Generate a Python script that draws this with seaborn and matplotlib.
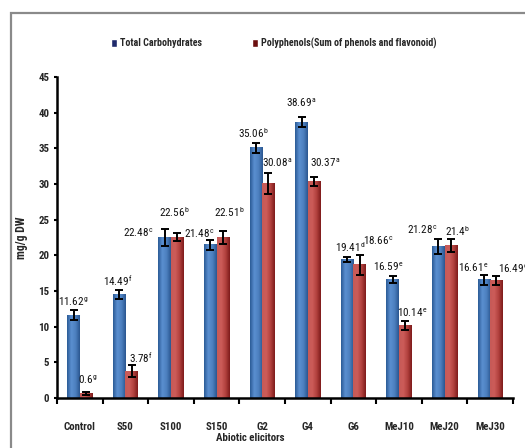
import numpy as np
import pandas as pd
import matplotlib
matplotlib.use("Agg")
import matplotlib.pyplot as plt
import seaborn as sns
from matplotlib.colors import LinearSegmentedColormap
from matplotlib.patches import Rectangle, Patch
from matplotlib import font_manager

# ---- data -------------------------------------------------------------
elicitors = ["Control", "S50", "S100", "S150", "G2", "G4", "G6", "MeJ10", "MeJ20", "MeJ30"]
carbohydrates = [11.62, 14.49, 22.48, 21.48, 35.06, 38.69, 19.41, 16.59, 21.28, 16.61]
polyphenols = [0.6, 3.78, 22.56, 22.51, 30.08, 30.37, 18.66, 10.14, 21.4, 16.49]
carb_err = [0.65, 0.6, 1.2, 0.7, 0.65, 0.7, 0.4, 0.47, 1.05, 0.7]
poly_err = [0.2, 0.8, 0.55, 0.9, 1.5, 0.65, 1.35, 0.6, 0.95, 0.65]
carb_letters = ["g", "f", "c", "c", "b", "a", "d", "e", "c", "e"]
poly_letters = ["g", "f", "b", "b", "a", "a", "c", "e", "b", "d"]
series_names = ["Total Carbohydrates", "Polyphenols(Sum of phenols and flavonoid)"]
yticks = list(range(0, 50, 5))

# placement of the value annotations (offset from category centre, height)
carb_label_dx = [-0.15, -0.18, -0.72, -0.39, -0.2, -0.15, -0.07, -0.24, -0.5, -0.37]
carb_label_y = [13.5, 16.4, 23.1, 23.0, 37.2, 41.4, 21.2, 18.4, 23.6, 18.2]
poly_label_dx = [0.18, 0.34, 0.07, 0.27, 0.33, 0.38, 0.54, 0.29, 0.29, 0.5]
poly_label_y = [2.5, 5.6, 26.1, 26.1, 33.0, 33.0, 22.0, 11.9, 23.4, 18.2]

blue, red = "#4F81BD", "#C0504D"
blue_shades = ["#2B5B96", "#5A8FD0", "#4D80BF", "#2A5690"]
red_shades = ["#C65A57", "#CC5C59", "#B2413E", "#7E1B1B"]

# ---- style ------------------------------------------------------------
sns.set_theme(style="white")
installed = {f.name for f in font_manager.fontManager.ttflist}
narrow = [f for f in ("Liberation Sans Narrow", "Roboto Condensed",
                      "DejaVu Sans Condensed") if f in installed]
family = narrow + ["Roboto", "DejaVu Sans"]
plt.rcParams["font.family"] = family
plt.rcParams["font.stretch"] = "condensed"
plt.rcParams["mathtext.fontset"] = "custom"
plt.rcParams["mathtext.rm"] = family[0]
plt.rcParams["mathtext.default"] = "regular"
# narrower fonts can take the full size, otherwise shrink a little
small = 7.8 if narrow else 6.8

fig = plt.figure(figsize=(5.25, 4.48), dpi=100)
ax = fig.add_axes([57 / 525, 1 - 398 / 448, 456 / 525, 321 / 448])

df = pd.DataFrame({
    "elicitor": elicitors * 2,
    "value": carbohydrates + polyphenols,
    "series": [series_names[0]] * len(elicitors) + [series_names[1]] * len(elicitors),
})
sns.barplot(data=df, x="elicitor", y="value", hue="series",
            palette=[blue, red], width=0.55, errorbar=None,
            saturation=1, legend=False, ax=ax)

# shaded (cylinder-like) fill for each bar
bars = list(ax.patches)
n = len(elicitors)
grad = np.linspace(0, 1, 64).reshape(1, -1)
for k, p in enumerate(bars):
    shades = blue_shades if k < n else red_shades
    cmap = LinearSegmentedColormap.from_list("shade", shades)
    x0, w, h = p.get_x(), p.get_width(), p.get_height()
    ax.imshow(grad, cmap=cmap, extent=(x0, x0 + w, 0, h), aspect="auto",
              interpolation="bilinear", zorder=p.get_zorder() + 0.1)

# error bars at the bar centres
centres = [p.get_x() + p.get_width() / 2 for p in bars]
heights = [p.get_height() for p in bars]
ax.errorbar(centres, heights, yerr=carb_err + poly_err, fmt="none",
            ecolor="black", elinewidth=1.4, capsize=3, capthick=1.4, zorder=5)

# value annotations with significance letters
for i in range(n):
    ax.text(i + carb_label_dx[i], carb_label_y[i],
            f"{carbohydrates[i]}$^{{{carb_letters[i]}}}$",
            ha="center", va="center", fontsize=small + 0.2, color="#111111", zorder=6)
    ax.text(i + poly_label_dx[i], poly_label_y[i],
            f"{polyphenols[i]}$^{{{poly_letters[i]}}}$",
            ha="center", va="center", fontsize=small + 0.2, color="#111111",
            zorder=6, clip_on=False)

# ---- axes -------------------------------------------------------------
ax.set_xlim(-0.5, n - 0.5)
ax.set_ylim(0, 45)
sns.despine(ax=ax)
for s in ("left", "bottom"):
    ax.spines[s].set_color("black")
    ax.spines[s].set_linewidth(1.8)

ax.set_yticks(yticks)
ax.set_yticklabels([str(t) for t in yticks], fontweight="bold")
ax.tick_params(axis="y", direction="out", length=2.5, width=1.5,
               color="black", labelsize=small, pad=3, left=True)

ax.set_xticks(np.arange(-0.5, n, 1.0))
ax.set_xticklabels([])
ax.set_xticks(np.arange(n), minor=True)
ax.set_xticklabels(elicitors, minor=True, fontweight="bold")
ax.tick_params(axis="x", which="major", direction="out", length=4,
               width=1.5, color="black", bottom=True)
ax.tick_params(axis="x", which="minor", length=0, labelsize=small, pad=17)

ax.set_xlabel("Abiotic elicitors", fontsize=small, fontweight="bold")
ax.xaxis.set_label_coords(0.423, -0.11)
ax.set_ylabel("mg/g DW", fontsize=small + 0.7, fontweight="bold")
ax.yaxis.set_label_coords(-0.063, 0.5)

# legend above the plot
handles = [Patch(facecolor="#1F2A6B"), Patch(facecolor="#6B0E0E")]
fig.legend(handles, series_names, loc="center",
           bbox_to_anchor=(274 / 525, 1 - 43 / 448), ncol=2, frameon=False,
           prop={"size": small - 0.6, "weight": "bold"}, handlelength=0.6,
           handleheight=0.9, handletextpad=0.3, columnspacing=5)

# outer chart frame
fig.add_artist(Rectangle((11 / 525, -0.1), 1.0, 1 - 13 / 448 + 0.1,
                         transform=fig.transFigure, fill=False,
                         edgecolor="#8A8A8A", linewidth=1.6))

fig.savefig("out.png", dpi=100)
